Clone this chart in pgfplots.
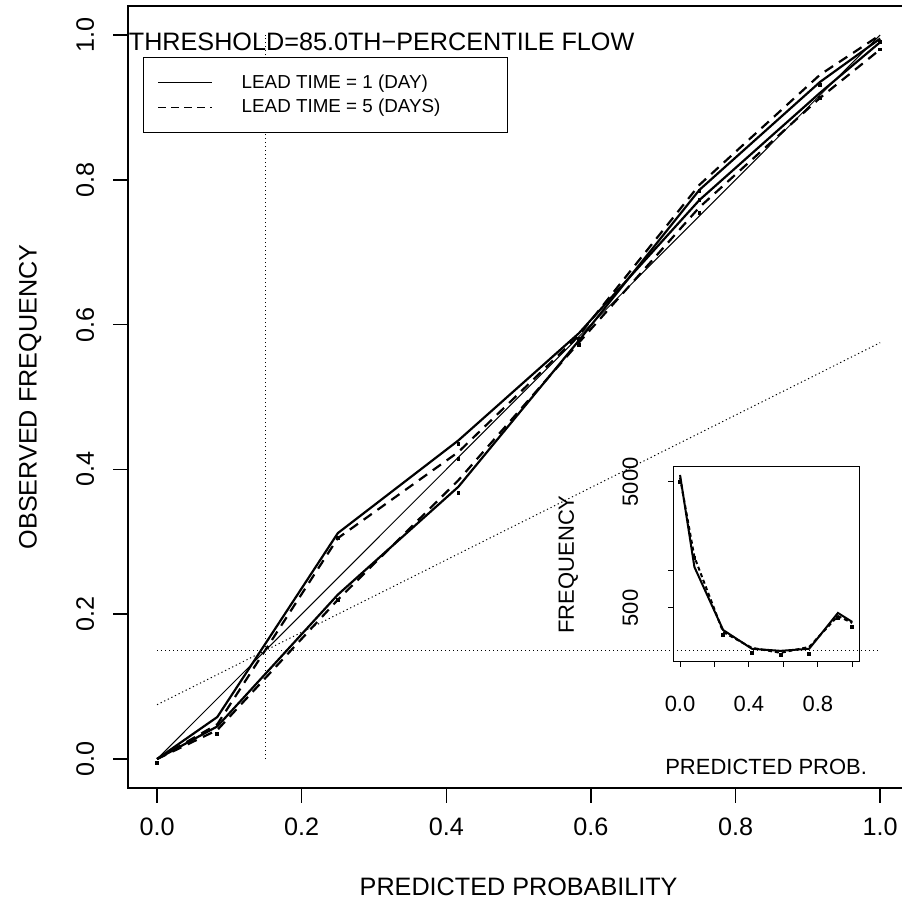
\documentclass[border=0pt]{standalone}
\usepackage{fontspec}
\setmainfont{Liberation Sans}
\usepackage{pgfplots}
\pgfplotsset{compat=1.18}
\begin{document}
\begin{tikzpicture}
\tikzset{dotl/.style={line width=0.5pt, dash pattern=on 0.6pt off 1.4pt},
         dashl/.style={line width=1.1pt, dash pattern=on 5pt off 3.5pt}}
\begin{axis}[
  name=main,
  scale only axis, width=390.5pt, height=391pt,
  xmin=-0.04, xmax=1.04, ymin=-0.04, ymax=1.04,
  axis line style={line width=0.8pt},
  tick style={line width=0.8pt, black},
  tick align=outside, major tick length=7.5pt,
  xtick pos=bottom, ytick pos=left,
  xtick={0,0.2,0.4,0.6,0.8,1}, ytick={0,0.2,0.4,0.6,0.8,1},
  xticklabels={0.0,0.2,0.4,0.6,0.8,1.0},
  yticklabels={0.0,0.2,0.4,0.6,0.8,1.0},
  ticklabel style={font=\fontsize{12.6}{15}\selectfont},
  xticklabel style={anchor=north, yshift=-4pt},
  yticklabel style={rotate=90, anchor=south},
  yticklabel shift=6pt,
  label style={font=\fontsize{12.6}{15}\selectfont},
  xlabel={PREDICTED PROBABILITY},
  ylabel={OBSERVED FREQUENCY},
  xlabel style={at={(axis description cs:0.5,-0.1266)}, anchor=center},
  ylabel style={at={(axis description cs:-0.1255,0.5)}, anchor=center},
  clip=false,
  legend style={at={(axis cs:-0.0194,0.9696)}, anchor=north west,
    draw=black, line width=0.5pt, font=\fontsize{9.4}{11}\selectfont,
    inner xsep=7pt, inner ysep=6.5pt, row sep=0pt, column sep=12.5pt},
  legend cell align=left,
  legend image code/.code={\draw[#1] (0pt,0pt) -- (27pt,0pt);},
]
\coordinate (BL) at (axis cs:-0.2172,-0.2030);
\coordinate (TR) at (axis cs:1.0290,1.0483);
\coordinate (insetSW) at (axis cs:0.7137,0.134);
\addlegendimage{black, line width=0.6pt}
\addlegendentry{\makebox[124pt][l]{LEAD TIME = 1 (DAY)}}
\addlegendimage{black, line width=0.6pt, dash pattern=on 4pt off 2.5pt}
\addlegendentry{\makebox[124pt][l]{LEAD TIME = 5 (DAYS)}}
% reference lines
\addplot[black, line width=0.5pt, forget plot] coordinates {(0,0) (1,1)};
\addplot[black, dotl, forget plot] coordinates {(0,0.075) (1,0.575)};
\addplot[black, dotl, forget plot] coordinates {(0.15,0) (0.15,1)};
\addplot[black, dotl, forget plot] coordinates {(0,0.15) (1,0.15)};
% reliability curves
\addplot[black, line width=1.1pt, forget plot] coordinates {(0,0) (0.0833,0.058) (0.25,0.312) (0.4167,0.44) (0.5833,0.588) (0.75,0.772) (0.9167,0.92) (1,0.99)};
\addplot[black, dashl, forget plot] coordinates {(0,0) (0.0833,0.048) (0.25,0.305) (0.4167,0.424) (0.5833,0.585) (0.75,0.793) (0.9167,0.945) (1,1.0)};
\addplot[black, line width=1.1pt, forget plot] coordinates {(0,0) (0.0833,0.045) (0.25,0.227) (0.4167,0.376) (0.5833,0.578) (0.75,0.786) (0.9167,0.935) (1,0.995)};
\addplot[black, dashl, forget plot] coordinates {(0,0) (0.0833,0.04) (0.25,0.22) (0.4167,0.385) (0.5833,0.575) (0.75,0.762) (0.9167,0.913) (1,0.98)};
\addplot[only marks, mark=square*, mark size=0.7pt, black, forget plot] coordinates {(0,-0.005) (0.0833,0.035) (0.25,0.305) (0.25,0.22) (0.4167,0.435) (0.4167,0.414) (0.4167,0.367) (0.5833,0.572) (0.5833,0.58) (0.75,0.785) (0.75,0.772) (0.75,0.754) (0.9167,0.931) (0.9167,0.913) (1,0.99) (1,0.98)};
\node[anchor=west, font=\fontsize{12.6}{15}\selectfont, inner sep=0pt] at (axis cs:-0.0395,0.990) {THRESHOLD=85.0TH−PERCENTILE FLOW};
\end{axis}
\begin{axis}[
  at={(insetSW)}, anchor=south west,
  scale only axis, width=93pt, height=97.5pt,
  xmin=-0.04, xmax=1.04, ymode=log, ymin=186, ymax=6577,
  axis line style={line width=0.5pt},
  tick style={line width=0.5pt, black},
  tick align=outside, major tick length=2.5pt,
  xtick pos=bottom, ytick pos=left,
  xtick={0,0.2,0.4,0.6,0.8,1}, xticklabels={0.0,,0.4,,0.8,},
  ytick={500,1000,5000}, yticklabels={500,,5000},
  minor ytick={},
  ticklabel style={font=\fontsize{11}{13}\selectfont},
  xticklabel style={anchor=north, yshift=-11pt},
  yticklabel style={rotate=90, anchor=south},
  yticklabel shift=11.5pt,
  label style={font=\fontsize{11}{13}\selectfont},
  xlabel={PREDICTED PROB.}, ylabel={FREQUENCY},
  xlabel style={at={(axis description cs:0.5,-0.538)}, anchor=center},
  ylabel style={at={(axis description cs:-0.5645,0.5)}, anchor=center},
  clip=false,
]
\addplot[black, line width=1pt] coordinates {(0,5690) (0.0833,1057) (0.25,334) (0.4167,237) (0.5833,228) (0.75,237) (0.9167,456) (1,387)};
\addplot[black, line width=1pt, dash pattern=on 2pt off 1.5pt] coordinates {(0,5400) (0.0833,1270) (0.25,322) (0.4167,241) (0.5833,220) (0.75,245) (0.9167,431) (1,380)};
\addplot[only marks, mark=square*, mark size=0.7pt, black] coordinates {(0,5000) (0.0833,1248) (0.25,305) (0.4167,220) (0.5833,212) (0.75,216) (0.9167,417) (1,353)};
\end{axis}
\pgfresetboundingbox
\useasboundingbox (BL) rectangle (TR);
\end{tikzpicture}
\end{document}
